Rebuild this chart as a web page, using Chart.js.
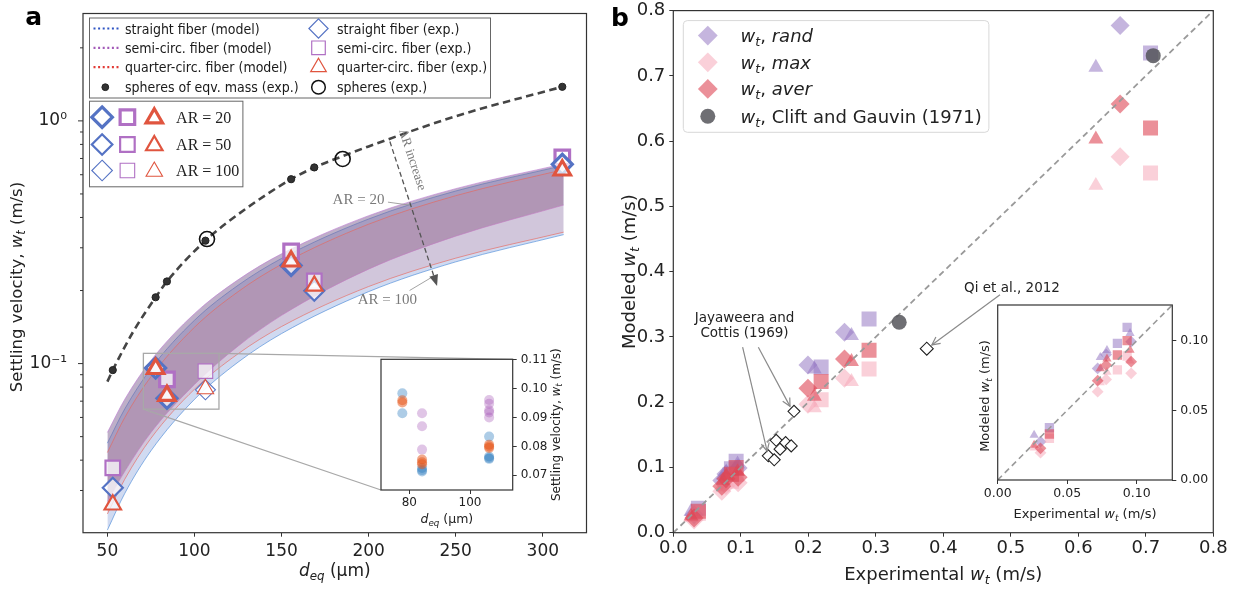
<!DOCTYPE html>
<html>
<head>
<meta charset="utf-8">
<title>Settling velocity of fibers</title>
<script src="https://cdn.jsdelivr.net/npm/chart.js@4.4.1/dist/chart.umd.min.js"></script>
<style>
  body { margin: 0; background: #fff; }
  #page { position: relative; width: 1241px; height: 590px; overflow: hidden; background: #fff; }
  canvas { position: absolute; }
</style>
</head>
<body>
<div id="page">
  <canvas id="mainA" width="600" height="590" style="left:0px;top:0px;z-index:1"></canvas>
  <canvas id="insetA" width="200" height="200" style="left:370px;top:345px;z-index:2"></canvas>
  <canvas id="mainB" width="641" height="590" style="left:600px;top:0px;z-index:1"></canvas>
  <canvas id="insetB" width="260" height="245" style="left:970px;top:290px;z-index:2"></canvas>
</div>
<script>
const SANS = '"DejaVu Sans", sans-serif';
const COND = '"DejaVu Sans Condensed", "DejaVu Sans", sans-serif';
const SERIF = '"Liberation Serif", "DejaVu Serif", serif';
Chart.defaults.font.family = SANS;
Chart.defaults.color = '#222';

// ---------- panel a : settling velocity vs d_eq ----------
// model bands (upper edge = AR 20, lower edge = AR 100)
const dModel     = [50, 60, 75, 100, 125, 150, 200, 250, 312];
const straightHi = [0.047, 0.0651, 0.0953, 0.1508, 0.2101, 0.2711, 0.3942, 0.5141, 0.655];
const straightLo = [0.0206, 0.0292, 0.0437, 0.0712, 0.1013, 0.1329, 0.1979, 0.2625, 0.340];
const semiHi     = [0.052, 0.0713, 0.1030, 0.1606, 0.2213, 0.2833, 0.4067, 0.5258, 0.665];
const semiLo     = [0.027, 0.036, 0.052, 0.082, 0.118, 0.158, 0.245, 0.335, 0.45];
const quarterHi  = [0.043, 0.0600, 0.0883, 0.1411, 0.1977, 0.2564, 0.3753, 0.4918, 0.63];
const quarterLo  = [0.024, 0.0334, 0.0492, 0.0784, 0.1097, 0.1421, 0.2077, 0.2719, 0.348];

// spheres
const dSphereFit = [50, 53.1, 65, 77.7, 84.2, 106.3, 130, 155.5, 168.8, 185, 200, 250, 311.2];
const wSphereFit = [0.0843, 0.094, 0.136, 0.1876, 0.218, 0.321, 0.437, 0.575, 0.643, 0.715, 0.785, 1.045, 1.382];
const dSphereEqv = [53.1, 77.7, 84.2, 106.3, 155.5, 168.8, 311.2];
const wSphereEqv = [0.094, 0.1876, 0.218, 0.321, 0.575, 0.643, 1.382];
const dSphere = [107.2, 185.1];
const wSphere = [0.326, 0.697];

// fiber experiments
const dExp         = [53.1, 77.7, 84.2, 106.3, 155.5, 168.8, 311.2];
const arExp        = [50, 20, 20, 100, 20, 50, 20];
const wStraightExp = [0.0308, 0.0960, 0.0719, 0.0780, 0.2536, 0.1995, 0.662];
const wSemiExp     = [0.0372, null, 0.0861, 0.0931, 0.290, 0.219, 0.707];
const wQuarterExp  = [0.0262, 0.0952, 0.0738, 0.0786, 0.264, 0.209, 0.626];

const yTicksA = [0.03, 0.04, 0.05, 0.06, 0.07, 0.08, 0.09, 0.1, 0.2, 0.3, 0.4, 0.5, 0.6, 0.7, 0.8, 0.9, 1, 2];
const majorTicksA = [0.1, 1];
const majorLabelsA = ['10⁻¹', '10⁰'];
const xTicksA = [50, 100, 150, 200, 250, 300];

// inset of panel a
const insetAX = [70.67, 114.07];
const insetAY = [0.0649, 0.1102];
const xTicksInsetA = [80, 100];
const yTicksInsetA = [0.07, 0.08, 0.09, 0.10, 0.11];
const insStraightD = [77.7, 77.7, 84.2, 84.2, 84.2, 106.3, 106.3, 106.3, 106.3];
const insStraightW = [0.0984, 0.0915, 0.0725, 0.0718, 0.0713, 0.0834, 0.0765, 0.0760, 0.0757];
const insSemiD     = [84.2, 84.2, 84.2, 106.3, 106.3, 106.3, 106.3, 106.3];
const insSemiW     = [0.0915, 0.0870, 0.0789, 0.0961, 0.0948, 0.0925, 0.0918, 0.0900];
const insQuarterD  = [77.7, 77.7, 84.2, 84.2, 84.2, 106.3, 106.3, 106.3];
const insQuarterW  = [0.0960, 0.0952, 0.0755, 0.0745, 0.0738, 0.0806, 0.0800, 0.0795];

// ---------- panel b : modeled vs experimental ----------
// x = experimental values above (same order as dExp)
const randStraight = [0.0275, 0.0993, 0.0801, 0.090, 0.307, 0.257, 0.777];
const maxStraight  = [0.0196, 0.0766, 0.0634, 0.0722, 0.2365, 0.197, 0.576];
const averStraight = [0.0227, 0.0849, 0.0713, 0.0825, 0.266, 0.2214, 0.657];
const randQuarter  = [0.0323, 0.1053, 0.088, 0.093, 0.302, 0.2507, 0.713];
const maxQuarter   = [0.0230, 0.0855, 0.070, 0.0775, 0.2315, 0.191, 0.532];
const averQuarter  = [0.0251, 0.0933, 0.080, 0.087, 0.262, 0.2088, 0.603];
const randSemi     = [0.0376, null, 0.0981, 0.1096, 0.3275, 0.254, 0.735];
const maxSemi      = [0.0299, null, 0.079, 0.089, 0.2507, 0.2037, 0.551];
const averSemi     = [0.033, null, 0.0897, 0.100, 0.2795, 0.2315, 0.620];
const jcExp   = [0.1407, 0.1495, 0.1524, 0.1582, 0.1664, 0.1747, 0.1788];
const jcModel = [0.1178, 0.1117, 0.1416, 0.128, 0.138, 0.133, 0.186];
const qiExp = [0.3755];
const qiModel = [0.282];
const cliftExp = [0.3347, 0.711];
const cliftModel = [0.3225, 0.731];
const identity = [0, 0.8];
const ticksB = [0, 0.1, 0.2, 0.3, 0.4, 0.5, 0.6, 0.7, 0.8];
const ticksInsetB = [0, 0.05, 0.10];
const insetBRange = [0, 0.1256];

// colours
const cBlue = '#5573c4', cPurple = '#b070c4', cRed = '#e0553f';
const cRand = 'rgba(150,120,195,0.55)', cMax = 'rgba(245,170,186,0.55)', cAver = 'rgba(222,70,85,0.6)';

function pts(xs, ys) { return xs.map((x, i) => ({ x: x, y: ys[i] })); }
function stack(list) { const n = list.length; list.forEach((d, i) => { d.order = n - i; }); return list; }
function arLw(ar) { return ar === 20 ? 3.2 : (ar === 50 ? 2.2 : 1.1); }
function fixW(w) { return s => { s.width = w; s.paddingTop = 0; s.paddingBottom = 0; s.paddingLeft = 0; s.paddingRight = 0; }; }
function fixH(h) { return s => { s.height = h; s.paddingTop = 0; s.paddingBottom = 0; s.paddingLeft = 0; s.paddingRight = 0; }; }
function setTicks(arr) { return s => { s.ticks = arr.map(v => ({ value: v })); }; }

function mark(ctx, shape, x, y, r, fill, stroke, lw) {
  ctx.save();
  ctx.beginPath();
  if (shape === 'rectRot') {
    ctx.moveTo(x, y - r); ctx.lineTo(x + r, y); ctx.lineTo(x, y + r); ctx.lineTo(x - r, y); ctx.closePath();
  } else if (shape === 'rect') {
    const s = r * Math.SQRT1_2;
    ctx.rect(x - s, y - s, 2 * s, 2 * s);
  } else if (shape === 'triangle') {
    ctx.moveTo(x, y - r);
    ctx.lineTo(x + r * Math.sin(2 * Math.PI / 3), y - r * Math.cos(2 * Math.PI / 3));
    ctx.lineTo(x + r * Math.sin(4 * Math.PI / 3), y - r * Math.cos(4 * Math.PI / 3));
    ctx.closePath();
  } else {
    ctx.arc(x, y, r, 0, Math.PI * 2);
  }
  if (fill) { ctx.fillStyle = fill; ctx.fill(); }
  if (stroke && lw) { ctx.strokeStyle = stroke; ctx.lineWidth = lw; ctx.stroke(); }
  ctx.restore();
}

// parts: [text, flags]  flags: i = italic, s = subscript, b = bold
function rich(ctx, parts, x, y, size, family, align, color) {
  let w = 0;
  const items = parts.map(p => {
    const f = p[1] || '';
    const sub = f.includes('s');
    const sz = sub ? size * 0.7 : size;
    const font = (f.includes('i') ? 'italic ' : '') + (f.includes('b') ? 'bold ' : '') + sz + 'px ' + family;
    ctx.font = font;
    const pw = ctx.measureText(p[0]).width;
    w += pw;
    return { t: p[0], font: font, pw: pw, sub: sub };
  });
  let cx = align === 'center' ? x - w / 2 : (align === 'right' ? x - w : x);
  ctx.save();
  ctx.fillStyle = color || '#222';
  ctx.textAlign = 'left';
  ctx.textBaseline = 'alphabetic';
  items.forEach(q => {
    ctx.font = q.font;
    ctx.fillText(q.t, cx, y + (q.sub ? size * 0.22 : 0));
    cx += q.pw;
  });
  ctx.restore();
}
function richRot(ctx, parts, x, y, size, family, color, angle) {
  ctx.save();
  ctx.translate(x, y);
  ctx.rotate(angle);
  rich(ctx, parts, 0, 0, size, family, 'center', color);
  ctx.restore();
}
function arrow(ctx, x1, y1, x2, y2, o) {
  ctx.save();
  ctx.strokeStyle = o.color; ctx.lineWidth = o.lw;
  const ang = Math.atan2(y2 - y1, x2 - x1);
  const L = o.head || 0, W = o.headW || L * 0.45;
  const ex = o.filled ? x2 - L * Math.cos(ang) : x2, ey = o.filled ? y2 - L * Math.sin(ang) : y2;
  ctx.setLineDash(o.dash || []);
  ctx.beginPath(); ctx.moveTo(x1, y1); ctx.lineTo(ex, ey); ctx.stroke();
  ctx.setLineDash([]);
  if (L) {
    const bx = x2 - L * Math.cos(ang), by = y2 - L * Math.sin(ang);
    const px = -Math.sin(ang) * W, py = Math.cos(ang) * W;
    ctx.beginPath(); ctx.moveTo(bx + px, by + py); ctx.lineTo(x2, y2); ctx.lineTo(bx - px, by - py);
    if (o.filled) { ctx.closePath(); ctx.fillStyle = o.color; ctx.fill(); } else { ctx.stroke(); }
  }
  ctx.restore();
}
function seg(ctx, x1, y1, x2, y2, color, lw) {
  ctx.save(); ctx.strokeStyle = color; ctx.lineWidth = lw;
  ctx.beginPath(); ctx.moveTo(x1, y1); ctx.lineTo(x2, y2); ctx.stroke(); ctx.restore();
}

const frame = {
  id: 'frame',
  afterDatasetsDraw(c) {
    const a = c.chartArea, ctx = c.ctx;
    ctx.save(); ctx.strokeStyle = '#333'; ctx.lineWidth = 1.2;
    ctx.strokeRect(a.left, a.top, a.right - a.left, a.bottom - a.top);
    ctx.restore();
  }
};
const whiteBg = {
  id: 'whiteBg',
  beforeDraw(c) {
    const a = c.chartArea, ctx = c.ctx;
    ctx.save(); ctx.fillStyle = '#fff'; ctx.fillRect(a.left, a.top, a.right - a.left, a.bottom - a.top); ctx.restore();
  }
};

function axisX(min, max, ticks, h, size, pad, fmt) {
  return {
    type: 'linear', min: min, max: max, afterFit: fixH(h), afterBuildTicks: setTicks(ticks),
    ticks: { autoSkip: false, maxRotation: 0, font: { size: size }, color: '#222', padding: pad, callback: fmt },
    grid: { drawOnChartArea: false, tickLength: 4, tickColor: '#333', tickWidth: 1 },
    border: { display: false }
  };
}
function axisY(min, max, ticks, w, size, pad, fmt, pos) {
  return {
    type: 'linear', position: pos || 'left', min: min, max: max, afterFit: fixW(w), afterBuildTicks: setTicks(ticks),
    ticks: { autoSkip: false, font: { size: size }, color: '#222', padding: pad, callback: fmt },
    grid: { drawOnChartArea: false, tickLength: 4, tickColor: '#333', tickWidth: 1 },
    border: { display: false }
  };
}
const baseOpts = { responsive: false, animation: false, events: [], plugins: { legend: { display: false }, tooltip: { enabled: false } } };

// ================= inset a =================
const cvInsetA = document.getElementById('insetA');
function insDots(xs, ys, col) {
  return { data: pts(xs, ys), showLine: false, pointRadius: 5, pointBackgroundColor: col, pointBorderWidth: 0 };
}
const chartInsetA = new Chart(cvInsetA, {
  type: 'line',
  data: { datasets: stack([
    insDots(insStraightD, insStraightW, 'rgba(40,120,190,0.38)'),
    insDots(insSemiD, insSemiW, 'rgba(160,80,180,0.33)'),
    insDots(insQuarterD, insQuarterW, 'rgba(230,85,25,0.5)')
  ]) },
  options: Object.assign({}, baseOpts, {
    layout: { padding: { left: 11, top: 14.3, right: 0, bottom: 0 } },
    scales: {
      x: axisX(insetAX[0], insetAX[1], xTicksInsetA, 55, 12, 2, v => String(v)),
      y: axisY(insetAY[0], insetAY[1], yTicksInsetA, 57.3, 12, 4, v => v.toFixed(2), 'right')
    }
  }),
  plugins: [whiteBg, frame, {
    id: 'labelsInsetA',
    afterDraw(c) {
      const ctx = c.ctx, a = c.chartArea;
      rich(ctx, [['d', 'i'], ['eq', 'is'], [' (μm)', '']], (a.left + a.right) / 2, 178, 12.5, SANS, 'center', '#222');
      richRot(ctx, [['Settling velocity, ', ''], ['w', 'i'], ['t', 'is'], [' (m/s)', '']], 189.5, (a.top + a.bottom) / 2, 12, SANS, '#222', -Math.PI / 2);
    }
  }]
});

// ================= main a =================
function band(hi, lo, fillCol, lineCol) {
  return [
    { data: pts(dModel, hi), fill: '+1', backgroundColor: fillCol, borderColor: lineCol, borderWidth: 0.9, pointRadius: 0, cubicInterpolationMode: 'monotone' },
    { data: pts(dModel, lo), fill: false, borderColor: lineCol, borderWidth: 0.9, pointRadius: 0, cubicInterpolationMode: 'monotone' }
  ];
}
function expSet(ys, shape, col, r) {
  return {
    data: pts(dExp, ys), showLine: false, pointStyle: shape,
    pointRadius: arExp.map(() => r), pointBorderWidth: arExp.map(arLw),
    pointBorderColor: col, pointBackgroundColor: 'rgba(255,255,255,0.72)'
  };
}
const dsA = stack([
  ...band(straightHi, straightLo, 'rgba(120,150,215,0.35)', 'rgba(70,135,215,0.7)'),
  ...band(semiHi, semiLo, 'rgba(125,95,145,0.5)', 'rgba(190,125,210,0.7)'),
  ...band(quarterHi, quarterLo, 'rgba(215,120,130,0.2)', 'rgba(232,100,90,0.7)'),
  { data: pts(dSphereFit, wSphereFit), fill: false, borderColor: '#454545', borderWidth: 2.6, borderDash: [7.5, 4.5], pointRadius: 0, cubicInterpolationMode: 'monotone' },
  { data: pts(dSphereEqv, wSphereEqv), showLine: false, pointRadius: 3.6, pointBackgroundColor: '#333', pointBorderColor: '#222', pointBorderWidth: 1 },
  { data: pts(dSphere, wSphere), showLine: false, pointRadius: 7.5, pointBackgroundColor: 'rgba(255,255,255,0)', pointBorderColor: '#111', pointBorderWidth: 1.6 },
  expSet(wSemiExp, 'rect', cPurple, 10.3),
  expSet(wStraightExp, 'rectRot', cBlue, 10),
  expSet(wQuarterExp, 'triangle', cRed, 9.5)
]);

const decorA = {
  id: 'decorA',
  afterDatasetDraw(c, args) {
    if (args.index !== 5) return;
    // zoom box and connectors to inset (under markers)
    const ctx = c.ctx, X = c.scales.x, Y = c.scales.y;
    const rx1 = X.getPixelForValue(insetAX[0]), rx2 = X.getPixelForValue(insetAX[1]);
    const ry1 = Y.getPixelForValue(insetAY[1]), ry2 = Y.getPixelForValue(insetAY[0]);
    ctx.save(); ctx.strokeStyle = '#a8a8a8'; ctx.lineWidth = 1.3;
    ctx.strokeRect(rx1, ry1, rx2 - rx1, ry2 - ry1); ctx.restore();
    const ia = chartInsetA.chartArea, ox = cvInsetA.offsetLeft, oy = cvInsetA.offsetTop;
    seg(ctx, rx2, ry1, ox + ia.right, oy + ia.top, '#a8a8a8', 1.2);
    seg(ctx, rx1, ry2, ox + ia.left, oy + ia.bottom, '#a8a8a8', 1.2);
  },
  afterDraw(c) {
    const ctx = c.ctx, a = c.chartArea, X = c.scales.x, Y = c.scales.y;
    const px = d => X.getPixelForValue(d), py = w => Y.getPixelForValue(w);
    // log ticks: major long, minor short
    yTicksA.forEach(v => {
      const y = py(v), major = majorTicksA.includes(v);
      seg(ctx, a.left - (major ? 5 : 3), y, a.left, y, '#333', 1);
    });
    // AR annotations
    const grey = '#7a7a7a';
    rich(ctx, [['AR = 20', '']], px(194.2), py(0.477) + 5, 15, SERIF, 'center', grey);
    seg(ctx, px(211.1), py(0.4626), px(224.6), py(0.4485), '#999', 0.9);
    rich(ctx, [['AR = 100', '']], px(210.8), py(0.1846) + 5, 15, SERIF, 'center', grey);
    seg(ctx, px(223.5), py(0.2), px(235.9), py(0.226), '#999', 0.9);
    const ax1 = px(212.2), ay1 = py(0.822), ax2 = px(239.3), ay2 = py(0.209);
    arrow(ctx, ax1, ay1, ax2, ay2, { color: '#555', lw: 1.3, dash: [5, 3], head: 11, headW: 4.5, filled: true });
    const ang = Math.atan2(ay2 - ay1, ax2 - ax1);
    const off = 7.5;
    richRot(ctx, [['AR increase', '']], px(219) + off * Math.sin(ang), py(0.67) - off * Math.cos(ang), 13, SERIF, grey, ang);

    // legend 1
    const lx = a.left + 6.5, ly = a.top + 4.5;
    ctx.save();
    ctx.fillStyle = 'rgba(255,255,255,0.92)'; ctx.strokeStyle = '#666'; ctx.lineWidth = 1;
    ctx.fillRect(lx, ly, 401, 80); ctx.strokeRect(lx, ly, 401, 80);
    ctx.restore();
    const rows = [ly + 10.5, ly + 29.8, ly + 49.2, ly + 69.2];
    const lineCols = ['#2f55c4', '#a35ab8', '#e23a35'];
    const col1 = ['straight fiber (model)', 'semi-circ. fiber (model)', 'quarter-circ. fiber (model)', 'spheres of eqv. mass (exp.)'];
    const col2 = ['straight fiber (exp.)', 'semi-circ. fiber (exp.)', 'quarter-circ. fiber (exp.)', 'spheres (exp.)'];
    const shapes = ['rectRot', 'rect', 'triangle'];
    const mcols = [cBlue, cPurple, cRed];
    rows.forEach((y, i) => {
      if (i < 3) {
        ctx.save(); ctx.strokeStyle = lineCols[i]; ctx.lineWidth = 2.2; ctx.setLineDash([2, 2.6]);
        ctx.beginPath(); ctx.moveTo(lx + 4, y); ctx.lineTo(lx + 29.5, y); ctx.stroke(); ctx.restore();
        mark(ctx, shapes[i], lx + 229, y, shapes[i] === 'triangle' ? 9 : 9.6, 'rgba(255,255,255,0)', mcols[i], 1.2);
      } else {
        mark(ctx, 'circle', lx + 15.8, y, 3.4, '#333', '#222', 1);
        mark(ctx, 'circle', lx + 229, y, 6.8, null, '#111', 1.5);
      }
      rich(ctx, [[col1[i], '']], lx + 35.5, y + 5, 14, COND, 'left', '#1a1a1a');
      rich(ctx, [[col2[i], '']], lx + 247.5, y + 5, 14, COND, 'left', '#1a1a1a');
    });

    // legend 2 (aspect ratios)
    const bx = a.left + 6.5, by = a.top + 87.7;
    ctx.save();
    ctx.fillStyle = 'rgba(255,255,255,0.92)'; ctx.strokeStyle = '#666'; ctx.lineWidth = 1;
    ctx.fillRect(bx, by, 153.4, 85.6); ctx.strokeRect(bx, by, 153.4, 85.6);
    ctx.restore();
    const ars = [20, 50, 100];
    const arY = [by + 16, by + 43.3, by + 69.3];
    ars.forEach((ar, i) => {
      mark(ctx, 'rectRot', bx + 12.6, arY[i], 10.3, '#fff', cBlue, arLw(ar));
      mark(ctx, 'rect', bx + 37.9, arY[i], 10.3, '#fff', cPurple, arLw(ar));
      mark(ctx, 'triangle', bx + 64.8, arY[i] + 1, 9.5, '#fff', cRed, arLw(ar));
      rich(ctx, [['AR = ' + ar, '']], bx + 86.6, arY[i] + 5.5, 16, SERIF, 'left', '#222');
    });

    // axis labels and panel letter
    rich(ctx, [['d', 'i'], ['eq', 'is'], [' (μm)', '']], (a.left + a.right) / 2, 576, 17, SANS, 'center', '#222');
    richRot(ctx, [['Settling velocity, ', ''], ['w', 'i'], ['t', 'is'], [' (m/s)', '']], 21.5, 287, 16.5, SANS, '#222', -Math.PI / 2);
    rich(ctx, [['a', 'b']], 33.6, 25, 25, SANS, 'center', '#000');
  }
};

const chartA = new Chart(document.getElementById('mainA'), {
  type: 'line',
  data: { datasets: dsA },
  options: Object.assign({}, baseOpts, {
    layout: { padding: { left: 0, top: 5, right: 11, bottom: 0 } },
    scales: {
      x: axisX(36, 325.1, xTicksA, 57.3, 17, 5, v => String(v)),
      y: {
        type: 'logarithmic', min: 0.0201, max: 2.77, afterFit: fixW(83), afterBuildTicks: setTicks(yTicksA),
        ticks: { autoSkip: false, font: { size: 17 }, color: '#222', padding: 8,
          callback: v => { const k = majorTicksA.indexOf(v); return k >= 0 ? majorLabelsA[k] : ''; } },
        grid: { display: false }, border: { display: false }
      }
    }
  }),
  plugins: [decorA, frame]
});

// ================= inset b =================
function scat(xs, ys, shape, col, r) {
  return { data: pts(xs, ys), showLine: false, pointStyle: shape, pointRadius: r, pointBackgroundColor: col, pointBorderWidth: 0 };
}
function groupSets(k) {
  const out = [];
  [[randStraight, randQuarter, randSemi, cRand], [maxStraight, maxQuarter, maxSemi, cMax], [averStraight, averQuarter, averSemi, cAver]].forEach(g => {
    out.push(scat(wStraightExp, g[0], 'rectRot', g[3], 9.5 * k));
    out.push(scat(wQuarterExp, g[1], 'triangle', g[3], 8.6 * k));
    out.push(scat(wSemiExp, g[2], 'rect', g[3], 10.6 * k));
  });
  return out;
}
function diag(w) {
  return { data: pts(identity, identity), fill: false, borderColor: '#9a9a9a', borderWidth: w, borderDash: [6, 4], pointRadius: 0 };
}
const cvInsetB = document.getElementById('insetB');
const chartInsetB = new Chart(cvInsetB, {
  type: 'line',
  data: { datasets: stack([...groupSets(0.62), diag(1.6)]) },
  options: Object.assign({}, baseOpts, {
    layout: { padding: { left: 27.7, top: 15, right: 0, bottom: 0 } },
    scales: {
      x: axisX(insetBRange[0], insetBRange[1], ticksInsetB, 55, 12.5, 2, v => v.toFixed(2)),
      y: axisY(insetBRange[0], insetBRange[1], ticksInsetB, 57.7, 12.5, 4, v => v.toFixed(2), 'right')
    }
  }),
  plugins: [whiteBg, frame, {
    id: 'labelsInsetB',
    afterDraw(c) {
      const ctx = c.ctx, a = c.chartArea;
      rich(ctx, [['Experimental ', ''], ['w', 'i'], ['t', 'is'], [' (m/s)', '']], (a.left + a.right) / 2, 228, 13, SANS, 'center', '#222');
      richRot(ctx, [['Modeled ', ''], ['w', 'i'], ['t', 'is'], [' (m/s)', '']], 19, 106, 13, SANS, '#222', -Math.PI / 2);
    }
  }]
});

// ================= main b =================
const decorB = {
  id: 'decorB',
  afterDraw(c) {
    const ctx = c.ctx, a = c.chartArea, X = c.scales.x, Y = c.scales.y;
    const px = v => X.getPixelForValue(v), py = v => Y.getPixelForValue(v);
    // annotations
    rich(ctx, [['Qi et al., 2012', '']], px(0.5018), py(0.377) + 5, 13.5, SANS, 'center', '#222');
    arrow(ctx, px(0.484), py(0.3645), px(0.383), py(0.2877), { color: '#8a8a8a', lw: 1.2, head: 8, headW: 4 });
    rich(ctx, [['Jayaweera and', '']], px(0.1055), py(0.330) + 5, 13.5, SANS, 'center', '#222');
    rich(ctx, [['Cottis (1969)', '']], px(0.1055), py(0.307) + 5, 13.5, SANS, 'center', '#222');
    arrow(ctx, px(0.1027), py(0.2843), px(0.139), py(0.125), { color: '#8a8a8a', lw: 1.2, head: 8, headW: 4 });
    arrow(ctx, px(0.126), py(0.2843), px(0.1729), py(0.1936), { color: '#8a8a8a', lw: 1.2, head: 8, headW: 4 });
    // legend
    const lx = a.left + 10, ly = a.top + 10, lw = 305.6, lh = 111.7;
    ctx.save();
    ctx.fillStyle = 'rgba(255,255,255,0.85)'; ctx.strokeStyle = '#d8d8d8'; ctx.lineWidth = 1;
    ctx.beginPath(); ctx.roundRect(lx, ly, lw, lh, 4); ctx.fill(); ctx.stroke();
    ctx.restore();
    const rows = [ly + 15, ly + 41.7, ly + 68.3, ly + 95.7];
    const names = [[['w', 'i'], ['t', 'is'], [', ', ''], ['rand', 'i']],
                   [['w', 'i'], ['t', 'is'], [', ', ''], ['max', 'i']],
                   [['w', 'i'], ['t', 'is'], [', ', ''], ['aver', 'i']],
                   [['w', 'i'], ['t', 'is'], [', Clift and Gauvin (1971)', '']]];
    const lc = [cRand, cMax, cAver];
    rows.forEach((y, i) => {
      if (i < 3) mark(ctx, 'rectRot', lx + 24.5, y, 9.9, lc[i], null, 0);
      else mark(ctx, 'circle', lx + 24.5, y, 7.5, 'rgba(85,85,90,0.85)', null, 0);
      rich(ctx, names[i], lx + 57.3, y + 6.5, 18, SANS, 'left', '#222');
    });
    // axis labels and panel letter
    rich(ctx, [['Experimental ', ''], ['w', 'i'], ['t', 'is'], [' (m/s)', '']], (a.left + a.right) / 2, 580, 18, SANS, 'center', '#222');
    richRot(ctx, [['Modeled ', ''], ['w', 'i'], ['t', 'is'], [' (m/s)', '']], 35, (a.top + a.bottom) / 2, 18, SANS, '#222', -Math.PI / 2);
    rich(ctx, [['b', 'b']], 20, 26, 25, SANS, 'center', '#000');
  }
};

const chartB = new Chart(document.getElementById('mainB'), {
  type: 'line',
  data: { datasets: stack([
    ...groupSets(1),
    diag(1.8),
    { data: pts(jcExp, jcModel), showLine: false, pointStyle: 'rectRot', pointRadius: 6, pointBackgroundColor: '#fff', pointBorderColor: '#222', pointBorderWidth: 1.1 },
    { data: pts(qiExp, qiModel), showLine: false, pointStyle: 'rectRot', pointRadius: 6.5, pointBackgroundColor: '#fff', pointBorderColor: '#222', pointBorderWidth: 1.1 },
    { data: pts(cliftExp, cliftModel), showLine: false, pointStyle: 'circle', pointRadius: 7.5, pointBackgroundColor: 'rgba(85,85,90,0.85)', pointBorderWidth: 0 }
  ]) },
  options: Object.assign({}, baseOpts, {
    layout: { padding: { left: 0, top: 5, right: 27.7, bottom: 0 } },
    scales: {
      x: axisX(0, 0.8, ticksB, 57.3, 18, 1, v => v.toFixed(1)),
      y: axisY(0, 0.8, ticksB, 73.3, 18, 4, v => v.toFixed(1))
    }
  }),
  plugins: [decorB, frame]
});
</script>
</body>
</html>
